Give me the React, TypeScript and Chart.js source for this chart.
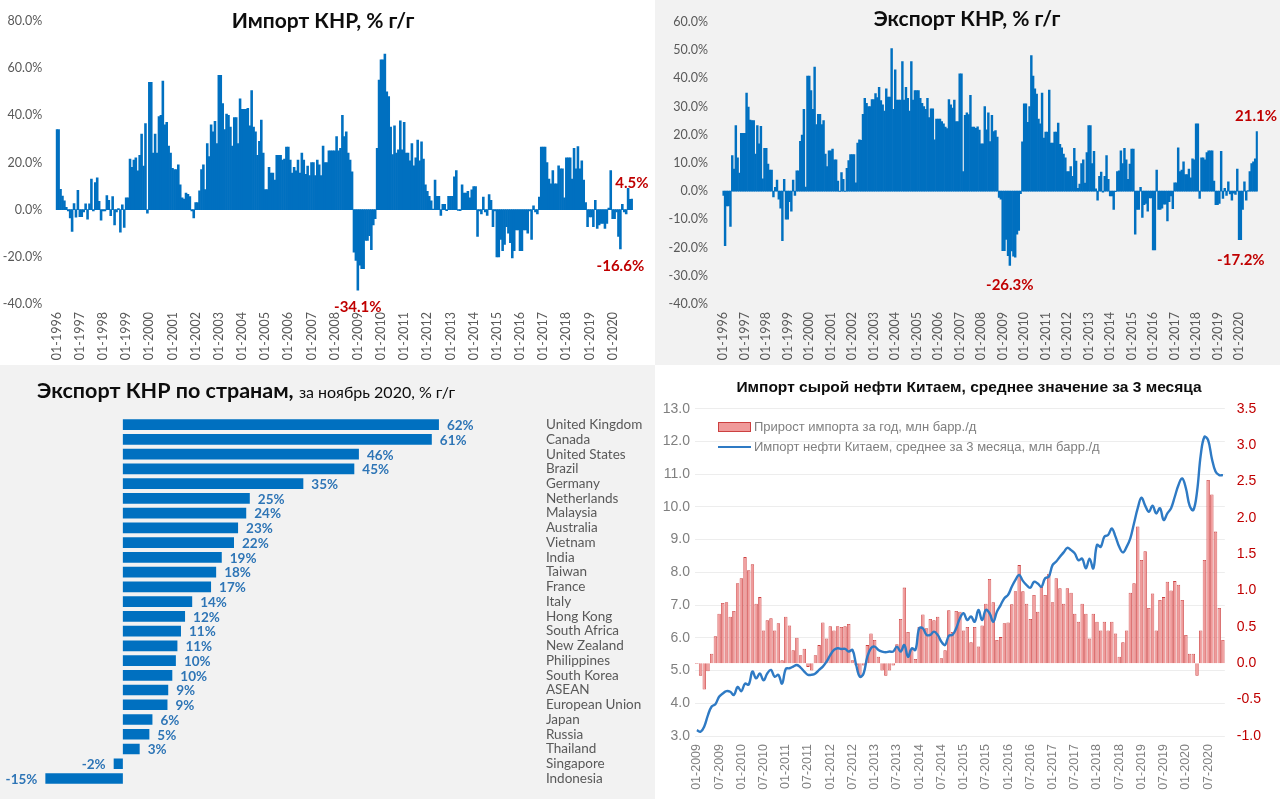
import React, { useEffect, useRef } from 'react';
import { Chart, registerables } from 'chart.js';

Chart.register(...registerables);

const FONT_C = "Lato, 'Noto Sans', 'DejaVu Sans', sans-serif";
const FONT_A = "'Liberation Sans', Arial, sans-serif";

// ---------- Data ----------
// China imports, % y/y, monthly 01-1996 .. 11-2020
const importYoY: number[] = [
  34, 34, 8.6, 5.8, 3.8, 1.0, -0.5, -3.5, -9.2, 2.6, -3.2, 8.2,
  -3, -3, -1, 2.5, -4, 2.5, 13, -0.5, 11.5, 13.5, 3.5, -4.5,
  -0.5, -0.5, 6, 4, -2.5, 5.5, -6.5, -1, 0.5, -9.5, 2, -7.5,
  5, 5, 21.5, 18, 21, 22, 16.5, 23, 32, 18.5, 36.5, -1.5,
  54, 54, 24, 32, 24, 39.5, 40, 54.5, 36, 37, 27, 24,
  17.5, 17, 17, 19, 10.5, 5, 4.5, 7, 6.5, 5.5, -0.5, -3.5,
  3, 3, 8, 17, 19, 8.5, 28, 22.5, 36, 33, 37.5, 28,
  57, 57, 45, 34, 40.5, 40, 35, 27, 39, 39, 28, 47,
  42.5, 42.5, 42.5, 43, 35.5, 50.5, 35, 33, 23, 29, 38, 24,
  8.5, 8.5, 18, 15.5, 15.5, 12.5, 23, 23, 23, 21, 21.5, 26.5,
  26.5, 21, 15.5, 18, 16.5, 21, 15.5, 24, 21, 15, 18.5, 14.5,
  20, 20, 14.5, 21, 19, 14.5, 27, 20, 20, 25, 25, 25,
  25, 31, 25, 26, 40, 31, 33, 24, 21, 16, -18, -21.5,
  -34.1, -23.5, -25, -25, -13, -13, -11, -17, -6.5, -3.8, 26, 55,
  63.5, 63.5, 66, 50, 48, 35, 23.4, 35.6, 24, 25.4, 37.7, 25.4,
  37, 24, 24, 20.7, 28, 18.6, 22, 29.5, 20.7, 28.8, 21.4, 10.5,
  7.8, 5.7, 3.7, 0.3, 12.5, 5.7, 5.7, -2.4, 2.3, 2.3, -0.4, 5.7,
  5.7, 5.7, 13.9, 16.6, -0.3, -0.4, 10.5, 7, 7, 7.8, 5, 8.4,
  9.8, 9.8, -11.3, -0.5, -1.8, 5.3, -1, -2.4, 6.4, 4, -7.2, -0.5,
  -20, -20, -12.6, -17.4, -14.7, -7.2, -10, -14, -20.5, -17.4, -8.6, -8.6,
  -17.4, -17.4, -8.6, -8.6, -10, -0.5, -12.6, 1.6, -1, -1.8, 5.3, 26.5,
  26.5, 26.5, 20, 13, 11, 16.6, 11, 11, 18.6, 17.3, 17.3, 5,
  22, 22, 22, 13, 26, 17.3, 26.8, 17.3, 20.7, 12.5, 3, -7.2,
  -3.1, -3.1, -7.2, 4, -7.9, -6.5, -5.8, -5.8, -7.9, -5.8, 0.7, 16.6,
  -3.8, -3.8, -1, -11.3, -16.6, 2.3, -1, -1.8, 9, 4.4, 4.5,
];
const importMarked = ['01-2009', '05-2020', '11-2020'];

// China exports, % y/y, monthly 01-1996 .. 11-2020
const exportYoY: number[] = [
  -1.5, -19.3, -5.2, -5.2, -12.5, 12.6, 7.8, 23.3, 11.8, 6.4, 20.5, 20.5,
  20.5, 34.8, 29.8, 25.2, 25, 25, 13.2, 23.3, 16.8, 23, 4.4, 15.2,
  15.2, 9.6, 7.5, 7.5, -2, 1.4, 3.9, -2.8, -6, -17.5, 4.2, -9.9,
  -9.9, -3.7, -7.1, 3.9, -1.5, 7.2, 7.2, 17.7, 19.9, 29, 1.5, 40.8,
  40.8, 35.7, 29, 44, 23.6, 27.3, 27.3, 23.6, 25, 13.2, 8.7, 14.3,
  14.3, 14.9, 11.1, 11.1, 3.6, -0.1, 6.6, 4.2, -0.1, 8.1, 10.9, 13,
  13, 13, 3, 17.1, 18.2, 18, 27.3, 32.9, 31.2, 30, 30, 32.5,
  32.5, 34.6, 33.2, 36.8, 32.1, 30.6, 28.4, 36.3, 33.4, 33.4, 50.6, 29,
  43, 32.3, 32.3, 32.3, 46, 32.3, 36.8, 32.9, 28.4, 46, 32.3, 35.7,
  35.7, 35.7, 32.9, 31.2, 30, 29, 32.9, 26.1, 29.2, 29.2, 18.2, 25.6,
  25.6, 25.6, 24.7, 23.9, 22.7, 22.2, 32.5, 30.6, 29.5, 32.3, 24.7, 24.7,
  41.6, 41.6, 7, 26.9, 27.8, 27.2, 34, 22.7, 22.7, 22.3, 22.8, 21.7,
  16.8, 16.8, 30, 21.8, 27.8, 17.6, 26.9, 21.1, 21.5, 19.2, -2.2, -2.8,
  -21.1, -21.1, -17.1, -22.9, -26.3, -21.2, -23, -23.4, -15.2, -13.9, -0.9, 17.5,
  31, 31, 24.4, 30, 48.1, 40.8, 36.3, 34.4, 25.6, 23.9, 34.8, 18.8,
  21, 21, 35.9, 17.1, 17.1, 21, 21, 24.2, 16.6, 15.4, 13.2, 11.8,
  7, 7, 8.7, 5.3, 15.2, 10.7, 1, 2.5, 9.8, 11.1, 2.9, 13.7,
  23.3, 23.3, 9.8, 14.1, 0.8, -3.2, 5.3, 6.8, -0.3, 5.3, 12.6, 4.2,
  -1.7, -1.7, -6.5, -0.2, 7, 7.2, 14.3, 9.8, 15.2, 11.1, 4.2, 9.6,
  14.9, 14.9, -15.2, -6.5, -6.5, 1.4, -9.3, -4.8, -4.3, -7.1, -2.4, -2.4,
  -20.8, -20.8, 7.5, -6.5, -6.5, -6, -4.6, -4.6, -10.5, -3.7, -1.7, -6.2,
  3, 3, 15.4, 7, 7.5, 10.4, 5.9, 5.9, 7.8, 4.7, 11.5, 11.1,
  23.9, 23.9, -2.6, 11.8, 11.8, 11.1, 13.7, 14.3, 14.3, 14.3, 3.6, -4.8,
  -4.8, -4.3, 14.1, -2.6, 1, -1.5, 3.3, -1, -3.2, -0.7, -1.1, 7.8,
  -17.2, -17.2, -6.5, 3.3, -3.2, 0.2, 7, 9.8, 10.4, 11.5, 21.1,
];
const exportMarked = ['05-2009', '02-2020', '11-2020'];

// Exports by country, November 2020, % y/y
const countryNames = [
  'United Kingdom', 'Canada', 'United States', 'Brazil', 'Germany', 'Netherlands',
  'Malaysia', 'Australia', 'Vietnam', 'India', 'Taiwan', 'France', 'Italy',
  'Hong Kong', 'South Africa', 'New Zealand', 'Philippines', 'South Korea',
  'ASEAN', 'European Union', 'Japan', 'Russia', 'Thailand', 'Singapore', 'Indonesia',
];
const countryExportYoY = [
  62, 60.6, 46.3, 45.4, 35.4, 24.9, 24.2, 22.6, 21.8, 19.4, 18.3, 17.3, 13.6,
  12.2, 11.4, 10.7, 10.4, 9.7, 8.9, 8.75, 5.8, 5.2, 3.3, -1.8, -15.2,
];

// Crude oil imports of China, 01-2009 .. 11-2020
const oilImport3m = [
  3.18, 3.13, 3.29, 3.64, 3.9, 3.97, 4.2, 4.3, 4.37, 4.35,
  4.25, 4.5, 4.37, 4.6, 4.57, 4.97, 4.76, 4.91, 4.7, 4.91,
  5.02, 4.81, 4.87, 4.6, 5.05, 5.07, 5.12, 5.17, 5.09, 4.97,
  4.87, 4.87, 4.91, 5.02, 5.12, 5.27, 5.47, 5.63, 5.68, 5.66,
  5.66, 5.58, 5.63, 5.17, 4.81, 4.91, 5.42, 5.68, 5.73, 5.63,
  5.58, 5.56, 5.58, 5.58, 5.73, 5.58, 5.78, 5.42, 5.68, 5.63,
  6.29, 6.29, 6.09, 6.09, 6.19, 6.09, 5.88, 5.78, 6.06, 6.09,
  6.29, 6.6, 6.75, 6.54, 6.65, 6.49, 6.85, 6.54, 6.85, 6.75,
  6.49, 6.8, 7.0, 7.21, 7.31, 7.56, 7.77, 7.92, 7.74, 7.61,
  7.53, 7.71, 7.66, 7.56, 7.82, 7.87, 8.22, 8.33, 8.48, 8.61,
  8.75, 8.68, 8.58, 8.37, 8.42, 8.12, 8.42, 8.12, 8.84, 8.78,
  9.09, 9.14, 9.34, 9.09, 8.78, 8.61, 8.78, 9.04, 9.5, 9.96,
  10.28, 10.04, 9.85, 10.04, 9.8, 9.96, 9.6, 9.8, 9.96, 10.31,
  10.67, 10.87, 10.57, 10.04, 9.9, 10.46, 11.58, 12.14, 12.04, 11.48,
  11.08, 10.97, 10.97,
];
const oilImportChange = [
  -0.01, -0.17, -0.36, -0.11, 0.13, 0.37, 0.68, 0.83, 0.84, 0.64,
  0.72, 1.1, 1.17, 1.46, 1.28, 1.36, 0.82, 0.91, 0.45, 0.59,
  0.62, 0.45, 0.55, 0.04, 0.64, 0.52, 0.18, 0.35, 0.11, 0.2,
  -0.05, -0.1, 0.11, 0.25, 0.56, 0.34, 0.51, 0.45, 0.51, 0.5,
  0.51, 0.54, 0.04, -0.03, -0.17, -0.03, 0.25, 0.41, 0.32, 0.09,
  -0.1, -0.17, -0.1, -0.03, 0.26, 0.61, 1.04, 0.43, 0.2, 0.06,
  0.5, 0.67, 0.48, 0.61, 0.59, 0.64, 0.07, 0.18, 0.73, 0.43,
  0.72, 0.71, 0.45, 0.5, 0.29, 0.5, 0.23, 0.52, 0.82, 1.16,
  0.84, 0.32, 0.36, 0.55, 0.56, 0.81, 0.99, 1.35, 0.99, 0.82,
  0.61, 0.94, 0.71, 1.05, 0.94, 1.23, 0.84, 1.17, 1.03, 0.82,
  1.03, 0.97, 0.68, 0.57, 0.82, 0.68, 0.34, 0.68, 0.57, 0.45,
  0.57, 0.45, 0.57, 0.41, 0.09, 0.29, 0.45, 0.97, 1.1, 1.88,
  1.42, 1.54, 0.76, 0.96, 0.45, 0.87, 0.91, 1.12, 1.0, 1.13,
  1.08, 0.87, 0.39, 0.13, 0.13, -0.17, 0.45, 1.42, 2.52, 2.32,
  1.81, 0.76, 0.32,
];

const legendBarLabel = 'Прирост импорта за год, млн барр./д';
const legendLineLabel = 'Импорт нефти Китаем, среднее за 3 месяца, млн барр./д';

function monthLabels(startYear: number, count: number): string[] {
  const out: string[] = [];
  for (let i = 0; i < count; i++) {
    const m = (i % 12) + 1;
    const y = startYear + Math.floor(i / 12);
    out.push(String(m).padStart(2, '0') + '-' + y);
  }
  return out;
}

const tradeLabels = monthLabels(1996, importYoY.length);
const oilLabels = monthLabels(2009, oilImport3m.length);

const BLUE = '#0070c0';
const RED = '#c00000';

function markPlugin(months: string[], up: number, down: number) {
  return {
    id: 'markLabels',
    afterDatasetsDraw(chart: any) {
      const ctx = chart.ctx;
      const labels = chart.data.labels as string[];
      const data = chart.data.datasets[0].data as number[];
      const meta = chart.getDatasetMeta(0);
      ctx.save();
      ctx.font = `bold 15px ${FONT_C}`;
      ctx.fillStyle = RED;
      ctx.textAlign = 'center';
      ctx.textBaseline = 'middle';
      months.forEach((m) => {
        const i = labels.indexOf(m);
        if (i < 0) return;
        const v = data[i];
        const el = meta.data[i];
        const text = v.toFixed(1) + '%';
        const w = ctx.measureText(text).width;
        const x = Math.min(el.x, chart.width - w / 2 - 3);
        const y = v >= 0 ? el.y - up : el.y + down;
        ctx.fillText(text, x, y);
      });
      ctx.restore();
    },
  };
}

const countryLabelPlugin = {
  id: 'countryLabels',
  afterDatasetsDraw(chart: any) {
    const ctx = chart.ctx;
    const data = chart.data.datasets[0].data as number[];
    const meta = chart.getDatasetMeta(0);
    ctx.save();
    ctx.font = `bold 13.5px ${FONT_C}`;
    ctx.fillStyle = '#2e75b6';
    ctx.textBaseline = 'middle';
    meta.data.forEach((el: any, i: number) => {
      const v = data[i];
      const t = Math.round(v) + '%';
      if (v >= 0) {
        ctx.textAlign = 'left';
        ctx.fillText(t, el.x + 8, el.y + 1);
      } else {
        ctx.textAlign = 'right';
        ctx.fillText(t, el.x - 8, el.y + 1);
      }
    });
    ctx.restore();
  },
};

function tradeConfig(
  data: number[],
  marked: string[],
  yMin: number,
  yMax: number,
  step: number,
  yWidth: number,
  yPad: number,
  pad: { top: number; right: number },
  down: number,
): any {
  return {
    type: 'bar',
    data: {
      labels: tradeLabels,
      datasets: [
        {
          data,
          backgroundColor: BLUE,
          borderWidth: 0,
          barPercentage: 1,
          categoryPercentage: 1,
        },
      ],
    },
    options: {
      animation: false,
      responsive: false,
      maintainAspectRatio: false,
      events: [],
      layout: { padding: { top: pad.top, right: pad.right, left: 0, bottom: 0 } },
      plugins: { legend: { display: false }, tooltip: { enabled: false }, title: { display: false } },
      scales: {
        x: {
          grid: { display: false, drawTicks: false },
          border: { display: false },
          ticks: {
            autoSkip: false,
            minRotation: 90,
            maxRotation: 90,
            padding: 8,
            color: '#595959',
            font: { family: FONT_C, size: 12.5 },
            callback: (_v: any, i: number) => (tradeLabels[i].startsWith('01-') ? tradeLabels[i] : ''),
          },
          afterFit: (s: any) => {
            s.height = 61;
          },
        },
        y: {
          min: yMin,
          max: yMax,
          grid: { display: false, drawTicks: false },
          border: { display: false },
          ticks: {
            stepSize: step,
            padding: yPad,
            color: '#595959',
            font: { family: FONT_C, size: 12.5 },
            callback: (v: any) => Number(v).toFixed(1) + '%',
          },
          afterFit: (s: any) => {
            s.width = yWidth;
          },
        },
      },
    },
    plugins: [markPlugin(marked, 16, down)],
  };
}

export default function App() {
  const c1 = useRef<HTMLCanvasElement>(null);
  const c2 = useRef<HTMLCanvasElement>(null);
  const c3 = useRef<HTMLCanvasElement>(null);
  const c4 = useRef<HTMLCanvasElement>(null);

  useEffect(() => {
    const charts: Chart[] = [];
    charts.push(
      new Chart(
        c1.current as HTMLCanvasElement,
        tradeConfig(importYoY, importMarked, -40, 80, 20, 55.7, 13.5, { top: 9.3, right: 12.6 }, 17),
      ),
    );
    charts.push(
      new Chart(
        c2.current as HTMLCanvasElement,
        tradeConfig(exportYoY, exportMarked, -40, 60, 10, 67.4, 14.5, { top: 8.1, right: 14.2 }, 20),
      ),
    );
    charts.push(
      new Chart(c3.current as HTMLCanvasElement, {
        type: 'bar',
        data: {
          labels: countryNames,
          datasets: [
            {
              data: countryExportYoY,
              backgroundColor: BLUE,
              borderWidth: 0,
              barPercentage: 0.72,
              categoryPercentage: 1,
            },
          ],
        },
        options: {
          indexAxis: 'y',
          animation: false,
          responsive: false,
          maintainAspectRatio: false,
          events: [],
          layout: { padding: { top: 52.3, bottom: 10.8, left: 10.7, right: 0 } },
          plugins: { legend: { display: false }, tooltip: { enabled: false } },
          scales: {
            x: { display: false, min: -22, max: 82 },
            y: {
              position: 'right',
              grid: { display: false, drawTicks: false },
              border: { display: false },
              ticks: {
                padding: 5,
                color: '#595959',
                font: { family: FONT_C, size: 13.5 },
                autoSkip: false,
              },
              afterFit: (s: any) => {
                s.width = 114.1;
              },
            },
          },
        },
        plugins: [countryLabelPlugin],
      } as any),
    );
    charts.push(
      new Chart(c4.current as HTMLCanvasElement, {
        type: 'bar',
        data: {
          labels: oilLabels,
          datasets: [
            {
              type: 'line',
              data: oilImport3m,
              yAxisID: 'y',
              borderColor: '#2e7ac4',
              borderWidth: 2.4,
              pointRadius: 0,
              tension: 0.4,
              fill: false,
              order: 0,
            },
            {
              type: 'bar',
              data: oilImportChange,
              yAxisID: 'y1',
              backgroundColor: '#f09a9a',
              borderColor: '#cc4040',
              borderWidth: 0.8,
              barPercentage: 0.92,
              categoryPercentage: 1,
              order: 1,
            },
          ],
        },
        options: {
          animation: false,
          responsive: false,
          maintainAspectRatio: false,
          events: [],
          layout: { padding: { top: 43.7, bottom: 0, left: 0, right: 0 } },
          plugins: { legend: { display: false }, tooltip: { enabled: false } },
          scales: {
            x: {
              grid: { display: false, drawTicks: false },
              border: { display: false },
              ticks: {
                autoSkip: false,
                minRotation: 90,
                maxRotation: 90,
                padding: 8,
                color: '#7f7f7f',
                font: { family: FONT_A, size: 12.5 },
                callback: (_v: any, i: number) =>
                  oilLabels[i].startsWith('01-') || oilLabels[i].startsWith('07-') ? oilLabels[i] : '',
              },
              afterFit: (s: any) => {
                s.height = 63;
              },
            },
            y: {
              position: 'left',
              min: 3,
              max: 13,
              grid: { color: '#ededed', drawTicks: false },
              border: { display: false },
              ticks: {
                stepSize: 1,
                padding: 5,
                color: '#7f7f7f',
                font: { family: FONT_A, size: 14 },
                callback: (v: any) => Number(v).toFixed(1),
              },
              afterFit: (s: any) => {
                s.width = 40;
              },
            },
            y1: {
              position: 'right',
              min: -1,
              max: 3.5,
              grid: { display: false, drawTicks: false },
              border: { display: false },
              ticks: {
                stepSize: 0.5,
                padding: 12,
                color: RED,
                font: { family: FONT_A, size: 14 },
                callback: (v: any) => Number(v).toFixed(1),
              },
              afterFit: (s: any) => {
                s.width = 55.2;
              },
            },
          },
        },
      } as any),
    );
    return () => {
      charts.forEach((c) => c.destroy());
    };
  }, []);

  const panel = (left: number, top: number, w: number, h: number, bg: string): React.CSSProperties => ({
    position: 'absolute',
    left,
    top,
    width: w,
    height: h,
    background: bg,
    overflow: 'hidden',
  });

  return (
    <div style={{ position: 'absolute', left: 0, top: 0, width: 1280, height: 799, overflow: 'hidden', background: '#ffffff' }}>
      <div style={panel(0, 0, 655, 365, '#ffffff')}>
        <canvas ref={c1} width={655} height={365} style={{ position: 'absolute', left: 0, top: 0, width: 655, height: 365 }} />
        <div
          style={{
            position: 'absolute',
            left: 323,
            top: 6,
            transform: 'translateX(-50%)',
            whiteSpace: 'nowrap',
            font: `bold 21px/28px ${FONT_C}`,
            color: '#0d0d0d',
          }}
        >
          Импорт КНР, % г/г
        </div>
      </div>
      <div style={panel(655, 0, 625, 365, '#f2f2f2')}>
        <canvas ref={c2} width={625} height={365} style={{ position: 'absolute', left: 0, top: 0, width: 625, height: 365 }} />
        <div
          style={{
            position: 'absolute',
            left: 312,
            top: 4,
            transform: 'translateX(-50%)',
            whiteSpace: 'nowrap',
            font: `bold 21px/28px ${FONT_C}`,
            color: '#0d0d0d',
          }}
        >
          Экспорт КНР, % г/г
        </div>
      </div>
      <div style={panel(0, 365, 655, 434, '#f2f2f2')}>
        <canvas ref={c3} width={655} height={434} style={{ position: 'absolute', left: 0, top: 0, width: 655, height: 434 }} />
        <div
          style={{
            position: 'absolute',
            left: 37,
            top: 10,
            whiteSpace: 'nowrap',
            color: '#0d0d0d',
            font: `bold 21.5px/30px ${FONT_C}`,
          }}
        >
          Экспорт КНР по странам,{' '}
          <span style={{ fontWeight: 'normal', fontSize: 16 }}>за ноябрь 2020, % г/г</span>
        </div>
      </div>
      <div style={panel(655, 365, 625, 434, '#ffffff')}>
        <canvas ref={c4} width={625} height={434} style={{ position: 'absolute', left: 0, top: 0, width: 625, height: 434 }} />
        <div
          style={{
            position: 'absolute',
            left: 314,
            top: 12,
            transform: 'translateX(-50%)',
            whiteSpace: 'nowrap',
            font: `bold 15.5px/20px ${FONT_A}`,
            color: '#0d0d0d',
          }}
        >
          Импорт сырой нефти Китаем, среднее значение за 3 месяца
        </div>
        <div style={{ position: 'absolute', left: 63, top: 54, display: 'flex', alignItems: 'center', whiteSpace: 'nowrap' }}>
          <div style={{ width: 31, height: 8, background: '#f09a9a', border: '1px solid #cc4040', marginRight: 3 }} />
          <span style={{ font: `13px/16px ${FONT_A}`, color: '#7f7f7f' }}>{legendBarLabel}</span>
        </div>
        <div style={{ position: 'absolute', left: 63, top: 74, display: 'flex', alignItems: 'center', whiteSpace: 'nowrap' }}>
          <div style={{ width: 33, height: 2.5, background: '#2e7ac4', marginRight: 3 }} />
          <span style={{ font: `13px/16px ${FONT_A}`, color: '#7f7f7f' }}>{legendLineLabel}</span>
        </div>
      </div>
    </div>
  );
}
